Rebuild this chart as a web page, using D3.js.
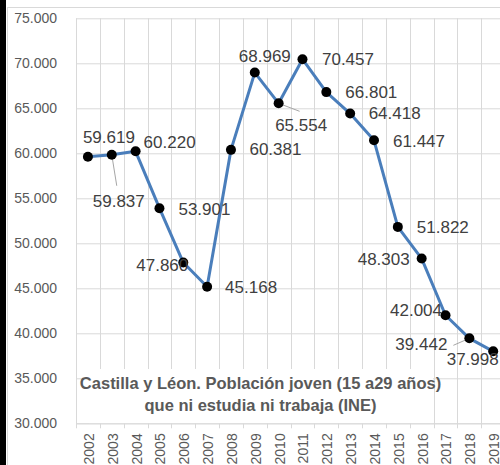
<!DOCTYPE html>
<html>
<head>
<meta charset="utf-8">
<script src="https://cdn.jsdelivr.net/npm/d3@7"></script>
<style>
  body { margin: 0; background: #fff; }
  svg { display: block; font-family: "Liberation Sans", Arial, sans-serif; }
</style>
</head>
<body>
<div id="chart"></div>
<script>
// data
const years = ['2002', '2003', '2004', '2005', '2006', '2007', '2008', '2009', '2010',
    '2011', '2012', '2013', '2014', '2015', '2016', '2017', '2018', '2019'];
const values = [59619, 59837, 60220, 53901, 47860, 45168, 60381, 68969, 65554,
    70457, 66801, 64418, 61447, 51822, 48303, 42004, 39442, 37998];
const yTicks = [30000, 35000, 40000, 45000, 50000, 55000, 60000, 65000, 70000, 75000];
const titleLines = ['Castilla y Léon. Población joven (15 a29 años)', 'que ni estudia ni trabaja (INE)'];

// label placement (anchor, dx, dy, optional leader end)
const labelPlace = [
    ['middle', 21, -14], ['middle', 7, 52, [5, 31]], ['start', 8, -3], ['start', 19, 7],
    ['end', 5, 8.5], ['start', 18, 6], ['start', 18.5, 5], ['middle', 10, -11],
    ['middle', 22.5, 28, [21, 8]], ['start', 19.5, 6], ['start', 19, 6], ['start', 18.5, 5.5],
    ['start', 19, 6.3], ['start', 19, 6.4], ['end', -12, 6.5], ['end', -3.5, 1],
    ['end', -22, 12, [-16, 7]], ['middle', -20.5, 14]
];

const width = 500, height = 465;
const margin = { top: 18.3, left: 76, bottom: 465 - 423.3 };
const plotW = 18 * 23.84;
const plotH = height - margin.top - margin.bottom;

const svg = d3.select('#chart').append('svg')
    .attr('width', width)
    .attr('height', height);

// left dark strip and chart frame
svg.append('rect').attr('x', 0).attr('y', 0).attr('width', 6).attr('height', height).attr('fill', '#000');
svg.append('rect').attr('x', 7.5).attr('y', 7.5).attr('width', 520).attr('height', 500)
    .attr('fill', '#fff').attr('stroke', '#d9d9d9');

const g = svg.append('g').attr('transform', `translate(${margin.left},${margin.top})`);

const x = d3.scaleBand().domain(years).range([0, plotW]).padding(0);
const y = d3.scaleLinear().domain([30000, 75000]).range([plotH, 0]);

// 59619 -> "59.619"
const fmt3 = d => {
    const s = String(d);
    return s.slice(0, s.length - 3) + '.' + s.slice(-3);
};

// horizontal gridlines
g.append('g').selectAll('line').data(yTicks).enter().append('line')
    .attr('x1', 0).attr('x2', plotW)
    .attr('y1', d => Math.round(y(d)) + 0.5).attr('y2', d => Math.round(y(d)) + 0.5)
    .attr('stroke', '#d9d9d9');

// vertical gridlines
g.append('g').selectAll('line').data(years.concat(['end'])).enter().append('line')
    .attr('x1', (d, i) => Math.round(i * x.step()) + 0.5)
    .attr('x2', (d, i) => Math.round(i * x.step()) + 0.5)
    .attr('y1', 0).attr('y2', plotH + 5)
    .attr('stroke', '#d9d9d9');

// y axis labels
const yAxis = d3.axisLeft(y).tickValues(yTicks).tickSize(0).tickPadding(19).tickFormat(fmt3);
const ya = g.append('g').call(yAxis);
ya.select('.domain').remove();
ya.selectAll('text').attr('fill', '#595959').style('font-size', '14px')
    .style('font-family', '"Liberation Sans", Arial, sans-serif');

// x axis labels
g.append('g').selectAll('text').data(years).enter().append('text')
    .attr('transform', d => `translate(${x(d) + x.bandwidth() / 2 + 1},${plotH + 10}) rotate(-90)`)
    .attr('text-anchor', 'end')
    .attr('dy', '0.35em')
    .attr('fill', '#595959')
    .style('font-size', '14px')
    .text(d => d);

// title box
const tb = g.append('g');
tb.append('rect')
    .attr('x', 89 - margin.left).attr('y', 369 - margin.top)
    .attr('width', 344).attr('height', plotH - (369 - margin.top))
    .attr('fill', '#fff');
tb.selectAll('text').data(titleLines).enter().append('text')
    .attr('x', 260.5 - margin.left)
    .attr('y', (d, i) => 389.5 - margin.top + i * 22)
    .attr('text-anchor', 'middle')
    .attr('fill', '#595959')
    .style('font-size', '16.5px')
    .style('font-weight', 'bold')
    .text(d => d);

// bottom axis line
g.append('line').attr('x1', 0).attr('x2', plotW)
    .attr('y1', Math.round(plotH) + 0.5).attr('y2', Math.round(plotH) + 0.5)
    .attr('stroke', '#d9d9d9');

const pts = years.map((yr, i) => ({ yr, v: values[i], p: labelPlace[i] }));
const cx = d => x(d.yr) + x.bandwidth() / 2;

// line
g.append('path').datum(pts)
    .attr('fill', 'none')
    .attr('stroke', '#4A7EBB')
    .attr('stroke-width', 3)
    .attr('stroke-linejoin', 'round')
    .attr('d', d3.line().x(cx).y(d => y(d.v)));

// leader lines
g.selectAll('.leader').data(pts.filter(d => d.p[3])).enter().append('line')
    .attr('class', 'leader')
    .attr('x1', cx).attr('y1', d => y(d.v))
    .attr('x2', d => cx(d) + d.p[3][0]).attr('y2', d => y(d.v) + d.p[3][1])
    .attr('stroke', '#a6a6a6').attr('stroke-width', 1);

// markers
g.selectAll('.dot').data(pts).enter().append('circle')
    .attr('class', 'dot')
    .attr('cx', cx).attr('cy', d => y(d.v))
    .attr('r', 5)
    .attr('fill', '#000');

// data labels
g.selectAll('.lbl').data(pts).enter().append('text')
    .attr('class', 'lbl')
    .attr('x', d => cx(d) + d.p[1])
    .attr('y', d => y(d.v) + d.p[2])
    .attr('text-anchor', d => d.p[0])
    .attr('fill', '#404040')
    .style('font-size', '17px')
    .text(d => fmt3(d.v));
</script>
</body>
</html>
